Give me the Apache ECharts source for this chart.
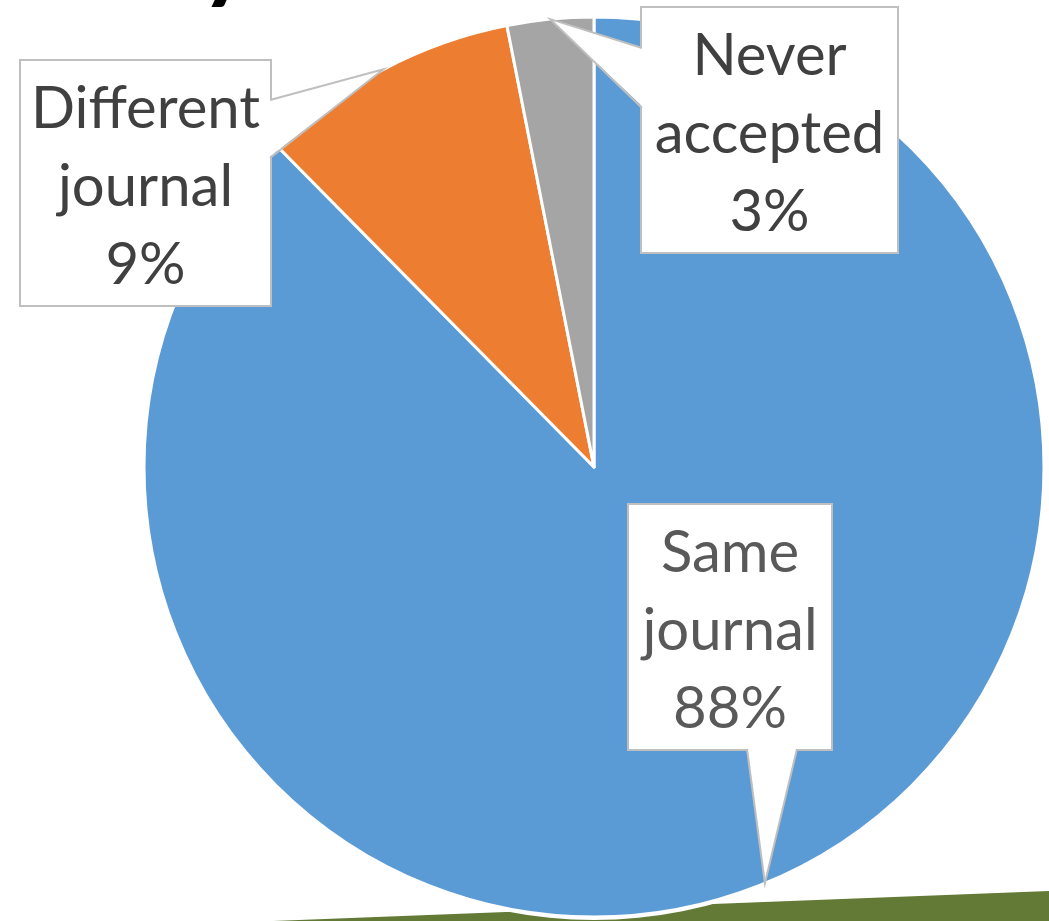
<!DOCTYPE html>
<html><head><meta charset="utf-8">
<script src="https://cdn.jsdelivr.net/npm/echarts@6/dist/echarts.min.js"></script>
<style>html,body{margin:0;padding:0;background:#fff}#c{width:1049px;height:921px}</style>
</head><body><div id="c"></div>
<script>
// ---- data ----
const categories = ['Same journal', 'Different journal', 'Never accepted'];
const values = [87.6, 9.3, 3.1];
const sliceColors = ['#5B9BD5', '#ED7D31', '#A5A5A5'];
const labelColors = ['#595959', '#404040', '#404040'];

// ---- layout ----
const CX = 594, CY = 467, R = 450;
const FONT = 58, LH = 78, PT = 9, PB = 1;
const boxes = [[629, 505, 202], [21, 61, 249], [642, 8, 255]]; // left, top, width
const callouts = [
  { side: 'bottom', a: 747, b: 797 },
  { side: 'right', a: 100, b: 158 },
  { side: 'left', a: 48, b: 108 }
];
const boxH = 3 * LH + PT + PB;

const chart = echarts.init(document.getElementById('c'), null, { renderer: 'canvas' });

// tips at slice mid-angles on the rim
const total = values.reduce((s, v) => s + v, 0);
let cum = 0;
const tips = values.map(v => {
  const mid = (cum + v / 2) / total * 2 * Math.PI;
  cum += v;
  return [CX + R * Math.sin(mid), CY - R * Math.cos(mid)];
});

const graphics = [];
graphics.push({
  type: 'polygon', z: 0, silent: true,
  shape: { points: [[273, 921], [1049, 891], [1049, 921]] },
  style: { fill: '#637A36' }
});
graphics.push({
  type: 'circle', z: 1, silent: true,
  shape: { cx: CX, cy: CY, r: R + 3 },
  style: { fill: '#fff' }
});
graphics.push({
  type: 'text', z: 1, silent: true, x: 200, y: 8,
  style: { text: 'y', font: 'bold 100px Lato', fill: '#000', align: 'left', verticalAlign: 'bottom' }
});
boxes.forEach((b, i) => {
  const c = callouts[i], t = tips[i];
  const L = b[0], T = b[1], Rr = b[0] + b[2], B = b[1] + boxH;
  let A, Bp, A2, B2;
  if (c.side === 'bottom') { A = [c.a, B]; Bp = [c.b, B]; A2 = [c.a, B - 2]; B2 = [c.b, B - 2]; }
  else if (c.side === 'right') { A = [Rr, c.a]; Bp = [Rr, c.b]; A2 = [Rr - 2, c.a]; B2 = [Rr - 2, c.b]; }
  else { A = [L, c.a]; Bp = [L, c.b]; A2 = [L + 2, c.a]; B2 = [L + 2, c.b]; }
  graphics.push({ type: 'polygon', z: 100, silent: true, shape: { points: [A2, t, B2] }, style: { fill: '#fff' } });
  graphics.push({ type: 'polyline', z: 101, silent: true, shape: { points: [A, t, Bp] }, style: { stroke: '#BFBFBF', lineWidth: 2, fill: null } });
});

const option = {
  animation: false,
  backgroundColor: '#fff',
  graphic: graphics,
  series: [{
    type: 'pie',
    z: 2,
    center: [CX, CY],
    radius: R,
    startAngle: 90,
    clockwise: true,
    percentPrecision: 0,
    avoidLabelOverlap: false,
    emphasis: { disabled: true },
    itemStyle: { borderColor: '#fff', borderWidth: 3 },
    labelLine: { show: false },
    label: {
      show: true,
      position: 'outside',
      fontFamily: 'Lato',
      fontSize: FONT,
      lineHeight: LH,
      align: 'center',
      backgroundColor: '#fff',
      borderColor: '#BFBFBF',
      borderWidth: 2,
      padding: [PT, 0, PB, 0],
      formatter: p => p.name.replace(' ', '\n') + '\n' + p.percent + '%'
    },
    labelLayout: p => {
      const b = boxes[p.dataIndex];
      return { x: b[0] + b[2] / 2, y: b[1], align: 'center', verticalAlign: 'top' };
    },
    data: categories.map((n, i) => ({
      name: n, value: values[i],
      itemStyle: { color: sliceColors[i] },
      label: { color: labelColors[i], width: boxes[i][2] }
    }))
  }]
};
chart.setOption(option);
</script></body></html>
